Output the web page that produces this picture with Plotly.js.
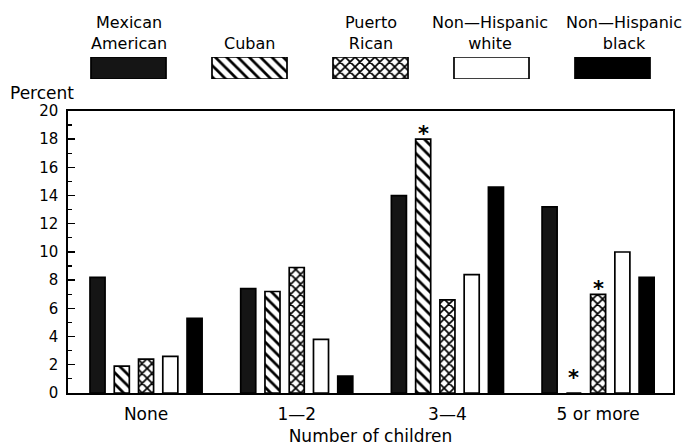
<!DOCTYPE html>
<html>
<head>
<meta charset="utf-8">
<script src="https://cdn.plot.ly/plotly-3.0.1.min.js"></script>
<style>html,body{margin:0;padding:0;background:#fff;}#chart{width:691px;height:448px;}</style>
</head>
<body>
<div id="chart"></div>
<script>
// ---- data ----
var categories = ["None", "1\u20142", "3\u20144", "5 or more"];
var seriesNames = ["Mexican<br>American", "Cuban", "Puerto<br>Rican", "Non\u2014Hispanic<br>white", "Non\u2014Hispanic<br>black"];
var mexicanAmerican = [8.2, 7.4, 14.0, 13.2];
var cuban = [1.9, 7.2, 18.0, 0];
var puertoRican = [2.4, 8.9, 6.6, 7.0];
var nonHispanicWhite = [2.6, 3.8, 8.4, 10.0];
var nonHispanicBlack = [5.3, 1.2, 14.6, 8.2];
var cubanNotes = ["", "", "*", "*"];
var puertoRicanNotes = ["", "", "", "*"];
var yTickValues = [0, 2, 4, 6, 8, 10, 12, 14, 16, 18, 20];
var legendSwatch = [1];

// ---- styles ----
var FONT = "DejaVu Sans";
var TXT = 17;
var styles = [
  {color: "#151515", shape: "", solidity: 0.3, size: 8},
  {color: "#ffffff", shape: "\\", solidity: 0.34, size: 8},
  {color: "#ffffff", shape: "x", solidity: 0.42, size: 7},
  {color: "#ffffff", shape: "", solidity: 0.3, size: 8},
  {color: "#000000", shape: "", solidity: 0.3, size: 8}
];
var seriesValues = [mexicanAmerican, cuban, puertoRican, nonHispanicWhite, nonHispanicBlack];
var seriesNotes = [null, cubanNotes, puertoRicanNotes, null, null];

var margin = {l: 68, r: 18, t: 10, b: 55};
var xRange = [-0.518, 3.497];
var bargap = 0.195, bargroupgap = 0.38;

function markerFor(i) {
  return {
    color: styles[i].color,
    line: {color: "#000", width: 1.7},
    pattern: {shape: styles[i].shape, fgcolor: "#000", bgcolor: "#fff", size: styles[i].size, solidity: styles[i].solidity}
  };
}

var traces = seriesValues.map(function (vals, i) {
  return {
    type: "bar", x: categories, y: vals,
    name: seriesNames[i].replace("<br>", " "),
    xaxis: "x", yaxis: "y",
    marker: markerFor(i),
    showlegend: false, hoverinfo: "skip"
  };
});

// legend swatches: one bar per series on a second axis pair
seriesNames.forEach(function (nm, i) {
  traces.push({
    type: "bar", x: [nm], y: legendSwatch,
    xaxis: "x2", yaxis: "y2",
    width: 0.62, offset: -0.31,
    marker: markerFor(i),
    showlegend: false, hoverinfo: "skip"
  });
});

var annotations = [
  {text: "Percent", xref: "paper", yref: "paper", x: -0.099, y: 0.783, xanchor: "left", yanchor: "middle",
   showarrow: false, font: {family: FONT, size: TXT}}
];

// legend labels above swatches
var labelShift = [0, 0, 0, -2, 11];
seriesNames.forEach(function (nm, i) {
  annotations.push({
    text: nm, xref: "x2", yref: "paper", x: nm, y: 0.8825,
    xanchor: "center", yanchor: "bottom", showarrow: false,
    xshift: labelShift[i],
    font: {family: FONT, size: 16}
  });
});

// significance asterisks placed above the relevant bars
var plotW = 691 - margin.l - margin.r;
var pxPerUnit = plotW / (xRange[1] - xRange[0]);
var slotPx = (1 - bargap) / seriesValues.length * pxPerUnit;
seriesNotes.forEach(function (notes, i) {
  if (!notes) return;
  notes.forEach(function (n, j) {
    if (!n) return;
    annotations.push({
      text: "<b>" + n + "</b>", xref: "x", yref: "y", x: categories[j], y: seriesValues[i][j],
      xanchor: "center", yanchor: "bottom", showarrow: false,
      xshift: (i - (seriesValues.length - 1) / 2) * slotPx,
      yshift: seriesValues[i][j] > 0 ? -9 : 1,
      font: {family: FONT, size: 21, color: "#000"}
    });
  });
});

var layout = {
  width: 691, height: 448,
  margin: margin,
  paper_bgcolor: "#fff", plot_bgcolor: "#fff",
  font: {family: FONT, size: 15, color: "#000"},
  barmode: "group",
  bargap: bargap,
  bargroupgap: bargroupgap,
  showlegend: false,
  xaxis: {
    domain: [0, 1],
    range: xRange,
    type: "category",
    showline: true, mirror: true, linecolor: "#000", linewidth: 1.6,
    ticks: "", showgrid: false, zeroline: false,
    ticklabelstandoff: 5,
    tickfont: {family: FONT, size: TXT},
    title: {text: "Number of children", font: {family: FONT, size: TXT}, standoff: 7}
  },
  yaxis: {
    domain: [0, 0.7363],
    range: [0, 20],
    tickvals: yTickValues,
    showline: true, mirror: true, linecolor: "#000", linewidth: 1.6,
    ticks: "inside", ticklen: 7, tickwidth: 1.4, tickcolor: "#000",
    minor: {dtick: 1, ticks: "inside", ticklen: 4, tickwidth: 1.2, tickcolor: "#000", showgrid: false},
    showgrid: false, zeroline: false,
    ticklabelstandoff: 5,
    tickfont: {family: FONT, size: 15}
  },
  xaxis2: {
    domain: [0, 1],
    anchor: "y2",
    range: [-0.5, 4.5],
    type: "category",
    showticklabels: false, showline: false, ticks: "", showgrid: false, zeroline: false
  },
  yaxis2: {
    domain: [0.8198, 0.8773],
    anchor: "x2",
    range: [0, 1],
    visible: false, fixedrange: true
  },
  annotations: annotations
};

Plotly.newPlot("chart", traces, layout, {staticPlot: true, displayModeBar: false});
</script>
</body>
</html>
